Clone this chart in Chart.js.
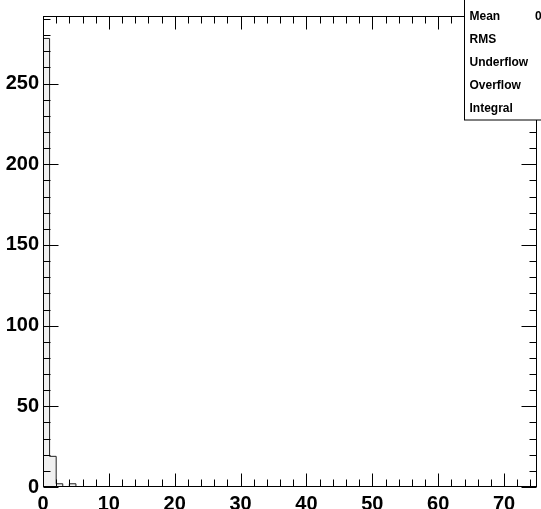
<!DOCTYPE html>
<html>
<head>
<meta charset="utf-8">
<script src="https://cdn.jsdelivr.net/npm/chart.js@4"></script>
<style>
  body { margin: 0; background: #fff; }
  canvas { display: block; }
</style>
</head>
<body>
<canvas id="histChart" width="541" height="509"></canvas>
<script>
// histogram: 75 bins of width 1 from 0 to 75 (last edge closes the final bin)
const binLowEdges = [
    0, 1, 2, 3, 4, 5, 6, 7, 8, 9, 10, 11, 12, 13, 14, 15, 16, 17, 18, 19,
    20, 21, 22, 23, 24, 25, 26, 27, 28, 29, 30, 31, 32, 33, 34, 35, 36, 37, 38, 39,
    40, 41, 42, 43, 44, 45, 46, 47, 48, 49, 50, 51, 52, 53, 54, 55, 56, 57, 58, 59,
    60, 61, 62, 63, 64, 65, 66, 67, 68, 69, 70, 71, 72, 73, 74, 75
];
const binCounts = [
    278, 19, 2, 0, 2, 0, 0, 0, 0, 0, 0, 0, 0, 0, 0, 0, 0, 0, 0, 0,
    0, 0, 0, 0, 0, 0, 0, 0, 0, 0, 0, 0, 0, 0, 0, 0, 0, 0, 0, 0,
    0, 0, 0, 0, 0, 0, 0, 0, 0, 0, 0, 0, 0, 0, 0, 0, 0, 0, 0, 0,
    0, 0, 0, 0, 0, 0, 0, 0, 0, 0, 0, 0, 0, 0, 0
];
const xMajorTicks = [0, 10, 20, 30, 40, 50, 60, 70];
const yMajorTicks = [0, 50, 100, 150, 200, 250];
const statsLabels = ['Mean', 'RMS', 'Underflow', 'Overflow', 'Integral'];
const statsValues = ['0', '', '', '', ''];

const xRange = [0, 75];
const yRange = [0, 291.9];
const xMinorStep = 2;
const yMinorStep = 10;

const labelFont = { family: '"Liberation Sans", Arial, Helvetica, sans-serif', size: 20, weight: 'bold' };

// each bin starts at its low edge; the extra edge at 75 repeats the last count
const points = binLowEdges.map((x, i) => ({ x: x, y: binCounts[Math.min(i, binCounts.length - 1)] }));

function steps(min, max, step) {
    const out = [];
    for (let v = min; v <= max + 1e-9; v += step) out.push(v);
    return out;
}

// ROOT style frame: inward ticks on all four sides, then the stats box
const frameAndTicks = {
    id: 'frameAndTicks',
    afterDraw(chart) {
        const ctx = chart.ctx;
        const xs = chart.scales.x, ys = chart.scales.y;
        const L = Math.round(chart.chartArea.left) + 0.5;
        const R = Math.round(chart.chartArea.right) - 0.5;
        const T = Math.round(chart.chartArea.top) + 0.5;
        const B = Math.round(chart.chartArea.bottom) - 0.5;

        ctx.save();
        ctx.strokeStyle = '#000';
        ctx.lineWidth = 1;
        ctx.strokeRect(L, T, R - L, B - T);

        ctx.beginPath();
        steps(xRange[0], xRange[1], xMinorStep).forEach(v => {
            const px = Math.round(xs.getPixelForValue(v)) + 0.5;
            const len = v % 10 === 0 ? 13 : 7;
            ctx.moveTo(px, B); ctx.lineTo(px, B - len);
            ctx.moveTo(px, T); ctx.lineTo(px, T + len);
        });
        steps(yRange[0], yRange[1], yMinorStep).forEach(v => {
            const py = Math.round(ys.getPixelForValue(v)) + 0.5;
            const len = v % 50 === 0 ? 15 : 7;
            ctx.moveTo(L, py); ctx.lineTo(L + len, py);
            ctx.moveTo(R, py); ctx.lineTo(R - len, py);
        });
        ctx.stroke();

        // stats box, running off the canvas like the original
        ctx.fillStyle = '#fff';
        ctx.fillRect(464.5, -1, 90, 121);
        ctx.strokeRect(464.5, -1, 90, 121);
        ctx.fillStyle = '#000';
        ctx.font = 'bold 12px "Liberation Sans", Arial, sans-serif';
        ctx.textBaseline = 'middle';
        statsLabels.forEach((s, i) => {
            const y = 16.5 + i * 23.1;
            ctx.fillText(s, 469.5, y);
            if (statsValues[i]) ctx.fillText(statsValues[i], 535, y);
        });
        ctx.restore();
    }
};

const ctx = document.getElementById('histChart').getContext('2d');
const histChart = new Chart(ctx, {
    type: 'line',
    data: {
        datasets: [{
            data: points,
            stepped: 'before',
            borderColor: '#222',
            borderWidth: 1,
            backgroundColor: '#f0f0f0',
            fill: 'origin',
            pointRadius: 0
        }]
    },
    options: {
        responsive: false,
        animation: false,
        layout: { padding: { top: 12, right: 4, left: 0, bottom: 0 } },
        plugins: { legend: { display: false }, tooltip: { enabled: false } },
        scales: {
            x: {
                type: 'linear',
                min: xRange[0],
                max: xRange[1],
                grid: { display: false, drawTicks: false },
                border: { display: false },
                afterBuildTicks: scale => { scale.ticks = xMajorTicks.map(v => ({ value: v })); },
                afterFit: scale => { scale.height = 22; },
                ticks: { color: '#000', font: labelFont, padding: 5, autoSkip: false, maxRotation: 0 }
            },
            y: {
                type: 'linear',
                min: yRange[0],
                max: yRange[1],
                grid: { display: false, drawTicks: false },
                border: { display: false },
                afterBuildTicks: scale => { scale.ticks = yMajorTicks.map(v => ({ value: v })); },
                afterFit: scale => { scale.width = 43; },
                ticks: { color: '#000', font: labelFont, padding: 4, autoSkip: false }
            }
        }
    },
    plugins: [frameAndTicks]
});
</script>
</body>
</html>
